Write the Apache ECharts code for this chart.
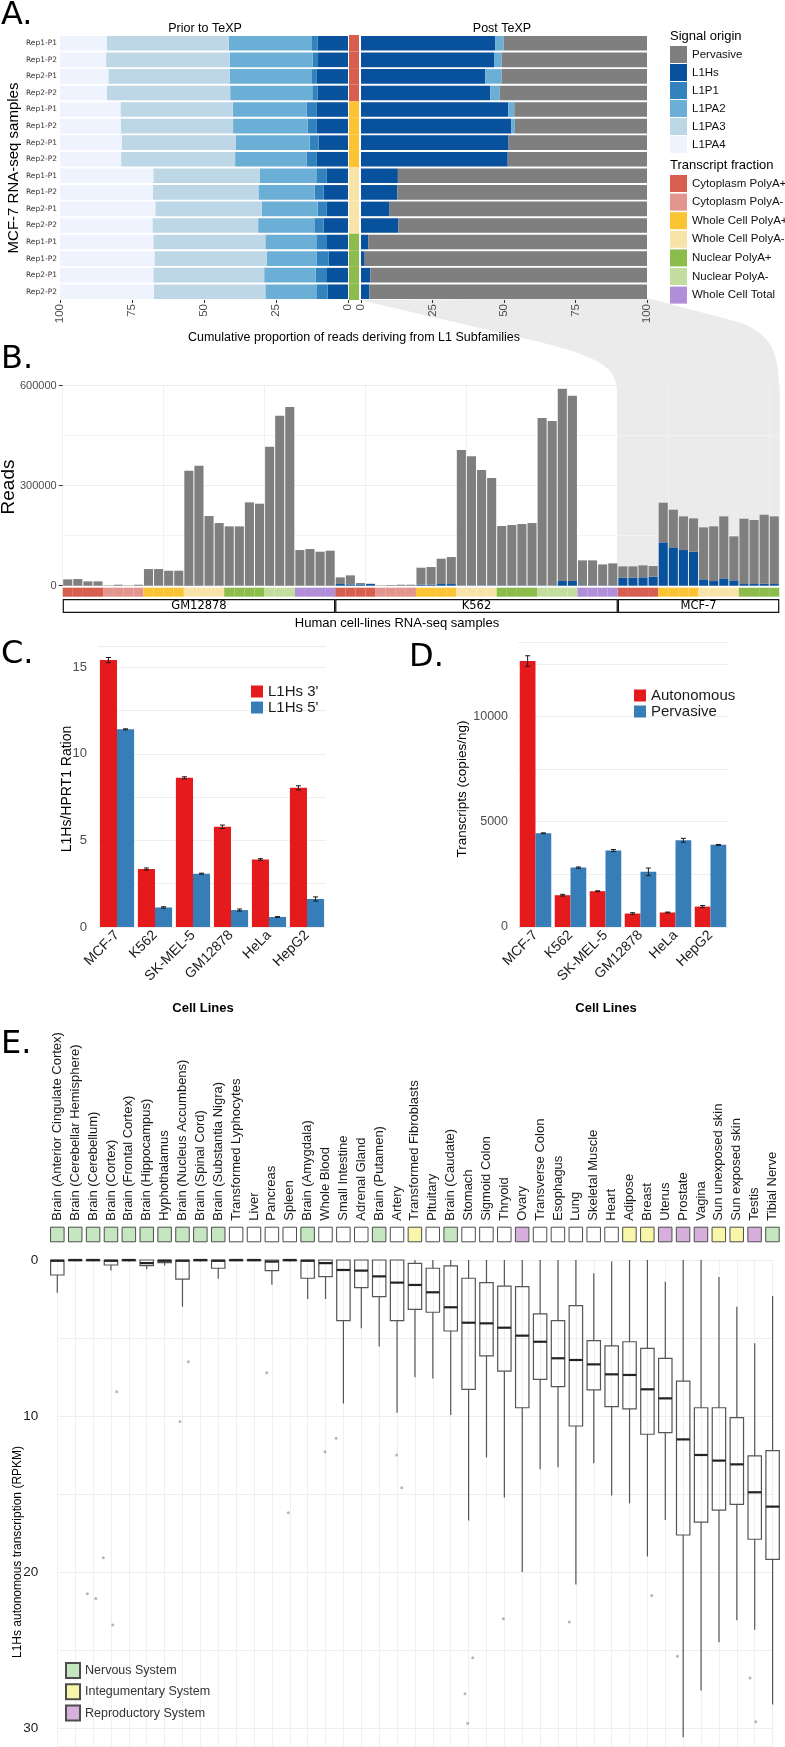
<!DOCTYPE html>
<html><head><meta charset="utf-8">
<script src="https://cdn.jsdelivr.net/npm/echarts@6/dist/echarts.min.js"></script>
<style>html,body{margin:0;padding:0;background:#fff}#c{width:785px;height:1747px}</style>
</head><body><div id="c"></div>
<script>
// ---------------- Panel A data ----------------
const aReplicates = ['Rep1-P1','Rep1-P2','Rep2-P1','Rep2-P2','Rep1-P1','Rep1-P2','Rep2-P1','Rep2-P2','Rep1-P1','Rep1-P2','Rep2-P1','Rep2-P2','Rep1-P1','Rep1-P2','Rep2-P1','Rep2-P2'];
const aFraction = ['Cytoplasm PolyA+','Cytoplasm PolyA+','Cytoplasm PolyA+','Cytoplasm PolyA+','Whole Cell PolyA+','Whole Cell PolyA+','Whole Cell PolyA+','Whole Cell PolyA+','Whole Cell PolyA-','Whole Cell PolyA-','Whole Cell PolyA-','Whole Cell PolyA-','Nuclear PolyA+','Nuclear PolyA+','Nuclear PolyA+','Nuclear PolyA+'];
const priorL1Hs  = [10.5,10.4,10.8,10.5, 11.0,10.8,10.2,10.8, 7.5,8.5,7.5,8.5, 7.3,6.7,7.3,7.1];
const priorL1P1  = [2.0,1.9,1.7,1.9, 3.3,3.2,3.1,3.5, 3.5,3.1,3.0,3.2, 3.7,4.1,3.9,3.9];
const priorL1PA2 = [28.9,28.8,28.6,28.5, 25.7,25.9,25.6,24.9, 19.7,19.5,19.5,19.5, 17.7,17.4,17.9,17.7];
const priorL1PA3 = [42.4,42.9,42.1,42.9, 39.0,39.0,39.7,39.6, 36.9,36.6,36.9,36.7, 38.9,39.0,38.5,38.7];
const priorL1PA4 = [16.2,16.0,16.8,16.2, 21.0,21.1,21.4,21.2, 32.4,32.3,33.1,32.1, 32.4,32.8,32.4,32.6];
const postL1Hs      = [47.0,46.5,43.4,45.2, 51.5,52.6,51.6,51.3, 12.9,12.7,10.0,13.1, 2.6,1.3,3.3,2.9];
const postL1PA2     = [2.9,2.7,5.8,3.3, 2.1,1.2,0,0, 0,0,0,0, 0,0,0,0];
const postPervasive = [50.1,50.8,50.8,51.5, 46.4,46.2,48.4,48.7, 87.1,87.3,90.0,86.9, 97.4,98.7,96.7,97.1];
const aTicks = [0,25,50,75,100];

// ---------------- Panel B data ----------------
const fracNames = ['Cytoplasm PolyA+','Cytoplasm PolyA-','Whole Cell PolyA+','Whole Cell PolyA-','Nuclear PolyA+','Nuclear PolyA-','Whole Cell Total'];
const bCellLine = [
 'GM12878','GM12878','GM12878','GM12878','GM12878','GM12878','GM12878','GM12878','GM12878','GM12878','GM12878','GM12878','GM12878','GM12878','GM12878','GM12878','GM12878','GM12878','GM12878','GM12878','GM12878','GM12878','GM12878','GM12878','GM12878','GM12878','GM12878',
 'K562','K562','K562','K562','K562','K562','K562','K562','K562','K562','K562','K562','K562','K562','K562','K562','K562','K562','K562','K562','K562','K562','K562','K562','K562','K562','K562','K562',
 'MCF-7','MCF-7','MCF-7','MCF-7','MCF-7','MCF-7','MCF-7','MCF-7','MCF-7','MCF-7','MCF-7','MCF-7','MCF-7','MCF-7','MCF-7','MCF-7'];
const bFracCode = [
 'CP+','CP+','CP+','CP+','CP-','CP-','CP-','CP-','WP+','WP+','WP+','WP+','WP-','WP-','WP-','WP-','NP+','NP+','NP+','NP+','NP-','NP-','NP-','WT','WT','WT','WT',
 'CP+','CP+','CP+','CP+','CP-','CP-','CP-','CP-','WP+','WP+','WP+','WP+','WP-','WP-','WP-','WP-','NP+','NP+','NP+','NP+','NP-','NP-','NP-','NP-','WT','WT','WT','WT',
 'CP+','CP+','CP+','CP+','WP+','WP+','WP+','WP+','WP-','WP-','WP-','WP-','NP+','NP+','NP+','NP+'];
const fracCodeNames = {'CP+':'Cytoplasm PolyA+','CP-':'Cytoplasm PolyA-','WP+':'Whole Cell PolyA+','WP-':'Whole Cell PolyA-','NP+':'Nuclear PolyA+','NP-':'Nuclear PolyA-','WT':'Whole Cell Total'};
const bTotal = [
 19000,20000,13000,13000, 1000,3000,1000,3000, 50000,50000,45000,45000, 345000,360000,209000,188000, 178000,178000,250000,246000, 417000,510000,536000, 107000,110000,102000,105000,
 25000,31000,8000,6000, 1000,2000,3000,3000, 54000,56000,81000,86000, 407000,388000,347000,323000, 179000,182000,185000,188000, 503000,494000,591000,570000, 76000,76000,64000,67000,
 58000,58000,61000,59000, 249000,228000,208000,202000, 175000,178000,208000,148000, 201000,197000,213000,208000];
const bL1Hs = [
 0,0,0,0, 0,0,0,0, 0,0,0,0, 0,0,0,0, 0,0,0,0, 0,0,0, 0,0,0,0,
 5000,4000,4000,5000, 0,0,0,0, 3000,3000,5000,5000, 1000,1000,1000,1000, 1000,1000,1000,1000, 1000,1000,14000,14000, 1000,1000,1000,1000,
 24000,24000,25000,27000, 130000,115000,107000,102000, 19000,14000,22000,16000, 5000,5000,6000,5000];
const bCellLineNames = ['GM12878','K562','MCF-7'];

// ---------------- Panel C / D data ----------------
const cCells = ['MCF-7','K562','SK-MEL-5','GM12878','HeLa','HepG2'];
const c3 = [15.42,3.35,8.62,5.79,3.90,8.04];
const c3Err = [0.15,0.06,0.06,0.10,0.05,0.12];
const c5 = [11.42,1.13,3.08,0.98,0.58,1.62];
const c5Err = [0.03,0.04,0.03,0.06,0.02,0.12];
const dAuto = [12630,1510,1700,640,690,970];
const dAutoErr = [250,40,20,40,20,50];
const dPerv = [4450,2820,3630,2620,4120,3900];
const dPervErr = [20,30,50,180,90,20];

// ---------------- Panel E data ----------------
const eTissues = ['Brain (Anterior Cingulate Cortex)','Brain (Cerebellar Hemisphere)','Brain (Cerebellum)','Brain (Cortex)','Brain (Frontal Cortex)','Brain (Hippocampus)','Hyphothalamus','Brain (Nucleus Accumbens)','Brain (Spinal Cord)','Brain (Substantia Nigra)','Transformed Lyphocytes','Liver','Pancreas','Spleen','Brain (Amygdala)','Whole Blood','Small Intestine','Adrenal Gland','Brain (Putamen)','Artery','Transformed Fibroblasts','Pituitary','Brain (Caudate)','Stomach','Sigmoid Colon','Thryoid','Ovary','Transverse Colon','Esophagus','Lung','Skeletal Muscle','Heart','Adipose','Breast','Uterus','Prostate','Vagina','Sun unexposed skin','Sun exposed skin','Testis','Tibial Nerve'];
const eSystem = ['N','N','N','N','N','N','N','N','N','N','O','O','O','O','N','O','O','O','N','O','I','O','N','O','O','O','R','O','O','O','O','O','I','I','R','R','R','I','I','R','N'];
const eWhiskerTop = [0,0,0,0,0,0,0,0,0,0, 0,0,0,0,0,0,0,0,0,0, 0,0,0,0,0,0,0,0,0,0, 0.85,0.1,0,0,1.4,0,0,1.09,3.0,5.34,2.3];
const eQ1 = [0,0,0,0,0,0,0,0,0,0, 0,0,0,0,0,0,0,0,0,0, 0.21,0.53,0.38,1.17,1.45,1.67,1.71,3.46,3.89,2.93, 5.17,5.51,5.24,5.66,6.30,7.76,9.47,9.47,10.11,12.56,12.22];
const eMedian = [0.05,0,0,0.05,0,0.2,0.05,0.05,0,0.05, 0,0,0.1,0,0.05,0.2,0.64,0.68,1.05,1.45, 1.6,2.07,3.03,4.02,4.06,4.34,4.85,5.24,6.30,6.41, 6.69,7.33,7.37,8.29,8.87,11.50,12.5,12.86,13.1,14.89,15.81];
const eQ3 = [0.96,0.05,0.05,0.32,0.05,0.36,0.17,1.22,0.05,0.53, 0.05,0.05,0.68,0.05,1.17,1.07,3.89,1.77,2.35,3.89, 3.16,3.35,4.55,8.29,6.15,7.12,9.47,7.65,8.12,10.64, 8.33,9.40,9.55,11.17,11.07,17.63,16.8,16.03,15.66,17.9,19.19];
const eWhiskerBottom = [2.1,0.08,0.08,0.68,0.1,0.6,0.35,3.0,0.1,1.2, 0.08,0.08,1.58,0.1,2.5,2.5,9.2,4.37,5.55,9.79, 7.52,7.59,9.94,16.7,12.65,15.23,20.0,13.42,13.29,20.8, 13.03,15.1,15.6,19.0,16.67,30.6,27.6,24.5,23.1,23.7,28.5];
const ePointsX = [2.57,1.68,2.15,3.1,6.86,12.92,14.97,15.59,3.32,7.33,11.71,18.98,19.26,22.95,23.23,22.8,28.63,34.68,38.74,39.06,24.94,33.24];
const ePointsY = [19.08,21.4,21.7,23.4,10.36,16.2,12.29,11.43,8.44,6.52,7.22,12.5,14.6,29.7,25.5,27.8,23.2,25.4,26.8,29.6,23.0,21.5];
const eSystemNames = {N:'Nervous System', I:'Integumentary System', R:'Reproductory System', O:'Other'};

// ---------------- styles ----------------
const sigColors = {'Pervasive':'#7f7f7f','L1Hs':'#08519c','L1P1':'#3182bd','L1PA2':'#6baed6','L1PA3':'#bdd7e7','L1PA4':'#eef3fd'};
const fracColors = {'Cytoplasm PolyA+':'#d65f4f','Cytoplasm PolyA-':'#e4958e','Whole Cell PolyA+':'#fcc433','Whole Cell PolyA-':'#f8e3a8','Nuclear PolyA+':'#8cbc4c','Nuclear PolyA-':'#c2dd9d','Whole Cell Total':'#b18ed8'};
const sysColors = {N:'#c5e6c0', I:'#f8f6a8', R:'#d6afdc', O:'#ffffff'};
const SANS = 'Liberation Sans, Arial, sans-serif';

const aIds = aReplicates.map((r,i)=>aFraction[i]+'|'+r);
const bIds = bCellLine.map((c,i)=>c+'#'+i);
const bFraction = bFracCode.map(c=>fracCodeNames[c]);

const series = [];
[['L1Hs',priorL1Hs],['L1P1',priorL1P1],['L1PA2',priorL1PA2],['L1PA3',priorL1PA3],['L1PA4',priorL1PA4]].forEach(([n,d])=>{
  series.push({name:n,type:'bar',xAxisIndex:0,yAxisIndex:0,stack:'prior',data:d,barCategoryGap:'12%',itemStyle:{color:sigColors[n]}});
});
fracNames.forEach(f=>series.push({name:f,type:'bar',xAxisIndex:1,yAxisIndex:1,stack:'astrip',barCategoryGap:'0%',data:aFraction.map(x=>x===f?1:'-'),itemStyle:{color:fracColors[f]}}));
[['L1Hs',postL1Hs],['L1PA2',postL1PA2],['Pervasive',postPervasive]].forEach(([n,d])=>{
  series.push({name:n,type:'bar',xAxisIndex:2,yAxisIndex:2,stack:'post',data:d,barCategoryGap:'12%',itemStyle:{color:sigColors[n]}});
});
series.push({name:'L1Hs',type:'bar',xAxisIndex:3,yAxisIndex:3,stack:'b',data:bL1Hs,barCategoryGap:'10%',itemStyle:{color:sigColors['L1Hs']}});
series.push({name:'Pervasive',type:'bar',xAxisIndex:3,yAxisIndex:3,stack:'b',data:bTotal.map((t,i)=>t-bL1Hs[i]),barCategoryGap:'10%',itemStyle:{color:sigColors['Pervasive']}});
fracNames.forEach(f=>series.push({name:f,type:'bar',xAxisIndex:4,yAxisIndex:4,stack:'bstrip',barCategoryGap:'0%',data:bFraction.map(x=>x===f?1:'-'),itemStyle:{color:fracColors[f]}}));
bCellLineNames.forEach(c=>series.push({name:c,type:'bar',xAxisIndex:5,yAxisIndex:5,stack:'cl',barWidth:'100%',data:[bCellLine.filter(x=>x===c).length],
  itemStyle:{color:'#fff',borderColor:'#111',borderWidth:1.2},
  label:{show:true,position:'inside',formatter:'{a}',color:'#000',fontSize:11.5,fontFamily:'DejaVu Sans'}}));

function errBar(ax, vals, errs, side){
  return {type:'custom',xAxisIndex:ax,yAxisIndex:ax,z:5,data:vals.map((v,i)=>[i,v,errs[i]]),encode:{x:0,y:1},
    renderItem:(p,api)=>{
      const i=api.value(0), v=api.value(1), e=api.value(2);
      const band=api.size([1,0])[0];
      const bw=band*0.9/2;
      const cx=api.coord([i,v])[0]+side*bw/2;
      const y1=api.coord([i,v+e])[1], y2=api.coord([i,v-e])[1];
      const st={stroke:'#1a1a1a',lineWidth:1};
      return {type:'group',children:[
        {type:'line',shape:{x1:cx,y1:y1,x2:cx,y2:y2},style:st},
        {type:'line',shape:{x1:cx-2.5,y1:y1,x2:cx+2.5,y2:y1},style:st},
        {type:'line',shape:{x1:cx-2.5,y1:y2,x2:cx+2.5,y2:y2},style:st}]};
    }};
}
series.push({name:"L1Hs 3'",type:'bar',xAxisIndex:6,yAxisIndex:6,data:c3,barGap:'0%',barCategoryGap:'10%',itemStyle:{color:'#e41a1c'}});
series.push({name:"L1Hs 5'",type:'bar',xAxisIndex:6,yAxisIndex:6,data:c5,barGap:'0%',barCategoryGap:'10%',itemStyle:{color:'#377eb8'}});
series.push(errBar(6,c3,c3Err,-1));
series.push(errBar(6,c5,c5Err,1));
series.push({name:'Autonomous',type:'bar',xAxisIndex:7,yAxisIndex:7,data:dAuto,barGap:'0%',barCategoryGap:'10%',itemStyle:{color:'#e41a1c'}});
series.push({name:'Pervasive ',type:'bar',xAxisIndex:7,yAxisIndex:7,data:dPerv,barGap:'0%',barCategoryGap:'10%',itemStyle:{color:'#377eb8'}});
series.push(errBar(7,dAuto,dAutoErr,-1));
series.push(errBar(7,dPerv,dPervErr,1));
['N','I','R','O'].forEach(k=>series.push({name:eSystemNames[k],type:'bar',xAxisIndex:8,yAxisIndex:8,stack:'sys',barWidth:14.5,
  data:eSystem.map(s=>s===k?1:'-'),itemStyle:{color:sysColors[k],borderColor:'#4d4d4d',borderWidth:1}}));
series.push({type:'scatter',xAxisIndex:9,yAxisIndex:9,z:3,symbolSize:3,data:ePointsX.map((x,i)=>[x,ePointsY[i]]),itemStyle:{color:'rgba(90,90,90,0.55)'}});
series.push({type:'custom',xAxisIndex:9,yAxisIndex:9,z:5,clip:false,
  data:eTissues.map((t,i)=>[i,eWhiskerTop[i],eQ1[i],eMedian[i],eQ3[i],eWhiskerBottom[i]]),
  encode:{x:0,y:[1,2,3,4,5]},
  renderItem:(p,api)=>{
    const i=api.value(0);
    const x=api.coord([i,0])[0];
    const Y=v=>api.coord([i,v])[1];
    const hw=6.7;
    const wl={stroke:'#555',lineWidth:1.2};
    const yq1=Y(api.value(2)), yq3=Y(api.value(4));
    return {type:'group',children:[
      {type:'line',shape:{x1:x,y1:Y(api.value(1)),x2:x,y2:yq1},style:wl},
      {type:'line',shape:{x1:x,y1:yq3,x2:x,y2:Y(api.value(5))},style:wl},
      {type:'rect',shape:{x:x-hw,y:yq1,width:2*hw,height:Math.max(yq3-yq1,0.5)},style:{fill:'rgba(255,255,255,0)',stroke:'#555',lineWidth:1.2}},
      {type:'line',shape:{x1:x-hw,y1:Y(api.value(3)),x2:x+hw,y2:Y(api.value(3))},style:{stroke:'#222',lineWidth:2.2}}
    ]};
  }});

const hidden = {show:false};
const gridLine = c=>({show:true,lineStyle:{color:c,width:1}});
const option = {
  animation:false,
  textStyle:{fontFamily:SANS},
  grid:[
    {left:60,top:35,width:288,height:265},
    {left:349,top:35,width:10,height:265},
    {left:361,top:35,width:286,height:265},
    {left:62.7,top:385.7,width:716.6,height:200},
    {left:62.7,top:587.7,width:716.6,height:9},
    {left:62.7,top:599,width:716.6,height:14},
    {left:98,top:646.6,width:228,height:280.4},
    {left:518,top:642.7,width:210,height:284.3},
    {left:48.4,top:1226.7,width:733,height:15.6},
    {left:57.3,top:1260,width:715.3,height:486.7}
  ],
  xAxis:[
    {gridIndex:0,type:'value',min:0,max:100,interval:25,inverse:true,axisLine:hidden,axisTick:{show:true,length:3,lineStyle:{color:'#333'}},axisLabel:{rotate:90,fontSize:11.5,color:'#4d4d4d',margin:4,formatter:v=>aTicks.includes(v)?String(v):''},splitLine:hidden},
    {gridIndex:1,type:'value',min:0,max:1,show:false},
    {gridIndex:2,type:'value',min:0,max:100,interval:25,axisLine:hidden,axisTick:{show:true,length:3,lineStyle:{color:'#333'}},axisLabel:{rotate:90,fontSize:11.5,color:'#4d4d4d',margin:4,formatter:v=>aTicks.includes(v)?String(v):''},splitLine:hidden},
    {gridIndex:3,type:'category',data:bIds,axisLabel:hidden,axisTick:hidden,axisLine:hidden,splitLine:gridLine('#f1f1f1')},
    {gridIndex:4,type:'category',data:bIds,show:false},
    {gridIndex:5,type:'value',min:0,max:bCellLine.length,show:false},
    {gridIndex:6,type:'category',data:cCells,axisLine:hidden,axisTick:hidden,axisLabel:{rotate:45,interval:0,fontSize:14,color:'#1a1a1a',margin:6},splitLine:hidden},
    {gridIndex:7,type:'category',data:cCells,axisLine:hidden,axisTick:hidden,axisLabel:{rotate:45,interval:0,fontSize:14,color:'#1a1a1a',margin:6},splitLine:hidden},
    {gridIndex:8,type:'category',data:eTissues,position:'top',axisLine:hidden,axisTick:hidden,axisLabel:{rotate:90,interval:0,fontSize:13,color:'#1a1a1a',margin:6}},
    {gridIndex:9,type:'value',min:0,max:eTissues.length-1,interval:1,axisLine:hidden,axisTick:hidden,axisLabel:hidden,splitLine:gridLine('#efefef')}
  ],
  yAxis:[
    {gridIndex:0,type:'category',data:aIds,inverse:true,axisLine:hidden,axisTick:hidden,axisLabel:{formatter:v=>v.split('|')[1],fontSize:7.5,fontFamily:'DejaVu Sans',color:'#333',margin:3,interval:0}},
    {gridIndex:1,type:'category',data:aIds,inverse:true,show:false},
    {gridIndex:2,type:'category',data:aIds,inverse:true,axisLine:hidden,axisTick:hidden,axisLabel:hidden},
    {gridIndex:3,type:'value',min:0,max:600000,interval:300000,axisLine:hidden,axisTick:{show:true,length:4,lineStyle:{color:'#333'}},axisLabel:{fontSize:11,color:'#4d4d4d',margin:6,formatter:v=>String(v)},splitLine:gridLine('#ececec'),minorTick:{show:false,splitNumber:2},minorSplitLine:{show:true,lineStyle:{color:'#f3f3f3'}}},
    {gridIndex:4,type:'value',min:0,max:1,show:false},
    {gridIndex:5,type:'category',data:['cell line'],show:false},
    {gridIndex:6,type:'value',min:0,max:16.2,interval:2.5,axisLine:hidden,axisTick:hidden,axisLabel:{fontSize:13,color:'#4d4d4d',margin:11,formatter:v=>(v%5===0)?String(v):''},splitLine:gridLine('#eeeeee')},
    {gridIndex:7,type:'value',min:0,max:13500,interval:2500,axisLine:hidden,axisTick:hidden,axisLabel:{fontSize:12.5,color:'#4d4d4d',margin:10,formatter:v=>(v%5000===0)?String(v):''},splitLine:gridLine('#eeeeee')},
    {gridIndex:8,type:'value',min:0,max:1,show:false},
    {gridIndex:9,type:'value',min:0,max:31.2,interval:5,inverse:true,axisLine:hidden,axisTick:hidden,axisLabel:{fontSize:13.5,color:'#1a1a1a',margin:19,formatter:v=>(v%10===0)?String(v):''},splitLine:gridLine('#eeeeee')}
  ],
  legend:[
    {data:['Pervasive','L1Hs','L1P1','L1PA2','L1PA3','L1PA4'],left:670,top:46,orient:'vertical',icon:'rect',itemWidth:17,itemHeight:17,itemGap:1,padding:0,selectedMode:false,textStyle:{fontSize:11.5,color:'#111'}},
    {data:fracNames,left:670,top:175,orient:'vertical',icon:'rect',itemWidth:17,itemHeight:17,itemGap:1.6,padding:0,selectedMode:false,textStyle:{fontSize:11.5,color:'#111'}},
    {data:["L1Hs 3'","L1Hs 5'"],left:251,top:684,orient:'vertical',icon:'rect',itemWidth:12,itemHeight:12,itemGap:1,padding:0,selectedMode:false,textStyle:{fontSize:15,lineHeight:13,color:'#1a1a1a'}},
    {data:['Autonomous','Pervasive '],left:634,top:688,orient:'vertical',icon:'rect',itemWidth:12,itemHeight:12,itemGap:1,padding:0,selectedMode:false,textStyle:{fontSize:15,lineHeight:13,color:'#1a1a1a'}},
    {data:['Nervous System','Integumentary System','Reproductory System'],left:65,top:1662,orient:'vertical',icon:'rect',itemWidth:14,itemHeight:15,itemGap:4.3,padding:0,selectedMode:false,textStyle:{fontSize:12.5,color:'#333'}}
  ],
  series:series,
  graphic:[]
};

function txt(text,x,y,size,opts){
  opts=opts||{};
  const font=(opts.weight||'normal')+' '+size+'px '+(opts.family||SANS);
  return {type:'text',x:x,y:y,rotation:opts.rot||0,z:opts.z||10,
    style:{text:text,font:font,fill:opts.color||'#000',textAlign:opts.align||'center',textVerticalAlign:'middle'}};
}
// decorative wedge linking panel A to MCF-7 samples of panel B
function bez(p0,p1,p2,p3,n){
  const pts=[];
  for(let k=0;k<=n;k++){const t=k/n,u=1-t;
    pts.push([u*u*u*p0[0]+3*u*u*t*p1[0]+3*u*t*t*p2[0]+t*t*t*p3[0], u*u*u*p0[1]+3*u*u*t*p1[1]+3*u*t*t*p2[1]+t*t*t*p3[1]]);}
  return pts;
}
const wedge = [[360,300]].concat(
  bez([535,341],[598,356],[617,367],[617,392],16),
  [[617,586],[779,586]],
  bez([779,392],[779,352],[772,336],[742,323],16),
  [[647,298]]);
option.graphic = [
  {type:'polygon',z:-1,shape:{points:wedge},style:{fill:'#ebebeb'}},
  txt('A.',1,16,32,{align:'left',family:'DejaVu Sans'}),
  txt('Prior to TeXP',205,29,12.5),
  txt('Post TeXP',502,29,12.5),
  txt('Signal origin',670,36,13,{align:'left'}),
  txt('Transcript fraction',670,165,13,{align:'left'}),
  txt('MCF-7 RNA-seq samples',14,168,15,{rot:Math.PI/2}),
  txt('Cumulative proportion of reads deriving from L1 Subfamilies',354,338,12.5),
  txt('B.',1,360,32,{align:'left',family:'DejaVu Sans'}),
  txt('Reads',9,487,19,{rot:Math.PI/2}),
  txt('Human cell-lines RNA-seq samples',397,623,13),
  txt('C.',1,655,32,{align:'left',family:'DejaVu Sans'}),
  txt('D.',409,658,32,{align:'left',family:'DejaVu Sans'}),
  txt('L1Hs/HPRT1 Ration',67,789,14,{rot:Math.PI/2}),
  txt('Transcripts (copies/ng)',462,789,13.5,{rot:Math.PI/2}),
  txt('Cell Lines',203,1008,13,{weight:'bold'}),
  txt('Cell Lines',606,1008,13,{weight:'bold'}),
  txt('E.',1,1045,32,{align:'left',family:'DejaVu Sans'}),
  txt('L1Hs autonomous transcription (RPKM)',18,1552,12,{rot:Math.PI/2})
];

const chart = echarts.init(document.getElementById('c'),null,{renderer:'canvas',width:785,height:1747});
chart.setOption(option);
</script>
</body></html>
